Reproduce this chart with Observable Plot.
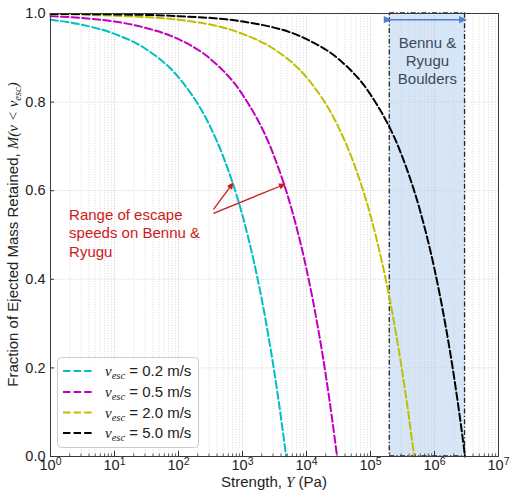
<!DOCTYPE html>
<html>
<head>
<meta charset="utf-8">
<script src="https://cdn.jsdelivr.net/npm/d3@7"></script>
<script src="https://cdn.jsdelivr.net/npm/@observablehq/plot@0.6"></script>
<style>
  html, body { margin: 0; padding: 0; background: #fff; }
  #chart { width: 516px; height: 500px; }
</style>
</head>
<body>
<div id="chart"></div>
<script>
// ---------- data ----------
const seriesSpeeds = ["0.2", "0.5", "2.0", "5.0"];            // v_esc (m/s)
const seriesColors = ["#00bfbf", "#bf00bf", "#bfbf00", "#000000"];

const strength_v02 = [1, 3, 10, 30, 100, 300, 500, 1000, 1500, 2000, 2500, 3000, 3500, 4000, 4500, 4800];
const retained_v02 = [0.986, 0.975, 0.954, 0.921, 0.856, 0.750, 0.677, 0.544, 0.441, 0.355, 0.278, 0.209, 0.146, 0.087, 0.032, 0.0];

const strength_v05 = [1, 3, 10, 30, 100, 300, 1000, 3000, 6000, 10000, 15000, 20000, 25000, 28000, 30000];
const retained_v05 = [0.994, 0.990, 0.982, 0.968, 0.942, 0.900, 0.817, 0.684, 0.553, 0.423, 0.293, 0.184, 0.087, 0.034, 0.0];

const strength_v20 = [1, 10, 100, 1000, 3000, 10000, 30000, 50000, 100000, 150000, 200000, 250000, 300000, 350000, 400000, 450000, 480000];
const retained_v20 = [0.999, 0.995, 0.986, 0.954, 0.921, 0.856, 0.750, 0.677, 0.544, 0.441, 0.355, 0.278, 0.209, 0.146, 0.087, 0.032, 0.0];

const strength_v50 = [1, 10, 100, 1000, 10000, 30000, 100000, 300000, 600000, 1000000, 1500000, 2000000, 2500000, 2800000, 3000000];
const retained_v50 = [0.999, 0.998, 0.994, 0.982, 0.942, 0.900, 0.817, 0.684, 0.553, 0.423, 0.293, 0.184, 0.087, 0.034, 0.0];

const xTickValues = [1, 10, 100, 1000, 10000, 100000, 1000000, 10000000];
const xTickExponents = ["0", "1", "2", "3", "4", "5", "6", "7"];
const yTickValues = [0, 0.2, 0.4, 0.6, 0.8, 1.0];
const yTickLabels = ["0.0", "0.2", "0.4", "0.6", "0.8", "1.0"];

const boulderRange = [200000, 3000000];
const boulderLabel = "Bennu &\nRyugu\nBoulders";
const boulderLabelAt = [775000, 0.894];
const boulderArrowY = 0.986;

const escapeLabel = "Range of escape\nspeeds on Bennu &\nRyugu";
const escapeLabelAt = [1.95, 0.506];
const escapeArrowFromX = [352, 352];
const escapeArrowFromY = [0.558, 0.549];
const escapeArrowToX = [700, 4500];
const escapeArrowToY = [0.616, 0.614];

// ---------- derived tables ----------
const strengths = [strength_v02, strength_v05, strength_v20, strength_v50];
const retaineds = [retained_v02, retained_v05, retained_v20, retained_v50];
const curves = strengths.map((s, k) => s.map((v, i) => ({s: v, m: retaineds[k][i]})));
const xMinor = [];
for (let k = 0; k < 7; k++) for (let m = 2; m <= 9; m++) xMinor.push(m * Math.pow(10, k));
const escapeArrows = escapeArrowFromX.map((_, i) => ({x1: escapeArrowFromX[i], y1: escapeArrowFromY[i], x2: escapeArrowToX[i], y2: escapeArrowToY[i]}));

const W = 516, H = 500, ML = 50, MR = 18, MT = 13, MB = 44;
const red = "#cc1a1a", blue = "#4a80d4";
const dash = "7.4,3.2";
const dashDot = "5,2.2,1.3,2.2";

const plot = Plot.plot({
  width: W, height: H,
  marginLeft: ML, marginRight: MR, marginTop: MT, marginBottom: MB,
  style: {fontFamily: "'Liberation Sans', Arial, sans-serif", fontSize: "14.5px", color: "#222", background: "#fff"},
  x: {type: "log", domain: [1, 1e7]},
  y: {domain: [0, 1]},
  marks: [
    Plot.rect([boulderRange], {x1: d => d[0], x2: d => d[1], y1: 0, y2: 1, fill: "#d6e6f7"}),
    Plot.ruleX(xMinor, {x: d => d, stroke: "#cfcfcf", strokeWidth: 0.7, strokeDasharray: "1,1.6"}),
    Plot.ruleX(xTickValues, {x: d => d, stroke: "#bdbdbd", strokeWidth: 0.8, strokeDasharray: "1,1.6"}),
    Plot.ruleY(yTickValues, {y: d => d, stroke: "#c8c8c8", strokeWidth: 0.8, strokeDasharray: "1,1.6"}),
    Plot.rect([boulderRange], {x1: d => d[0], x2: d => d[1], y1: 0, y2: 1, fill: "none", stroke: "#222", strokeWidth: 1.3, strokeDasharray: dashDot}),
    ...curves.map((rows, k) => Plot.line(rows, {x: "s", y: "m", stroke: seriesColors[k], strokeWidth: 2, strokeDasharray: dash, curve: "monotone-x"})),
    Plot.link([boulderRange], {x1: d => d[0], x2: d => d[1], y1: boulderArrowY, y2: boulderArrowY, stroke: blue, strokeWidth: 1.5, markerStart: "arrow", markerEnd: "arrow"}),
    Plot.text([boulderLabel], {x: boulderLabelAt[0], y: boulderLabelAt[1], text: d => d, lineAnchor: "middle", lineHeight: 1.2, fontSize: 15, fill: "#3b4a5c"}),
    Plot.text([escapeLabel], {x: escapeLabelAt[0], y: escapeLabelAt[1], text: d => d, textAnchor: "start", lineAnchor: "middle", lineHeight: 1.23, fontSize: 15, fill: red}),
    Plot.link(escapeArrows, {x1: "x1", y1: "y1", x2: "x2", y2: "y2", stroke: red, strokeWidth: 1.3, markerEnd: "arrow"}),
    Plot.frame({stroke: "#3a3a3a", strokeWidth: 1}),
    Plot.ruleX(xTickValues, {x: d => d, y1: 0, y2: 0, insetTop: -5, stroke: "#333"}),
    Plot.ruleX(xMinor, {x: d => d, y1: 0, y2: 0, insetTop: -2.5, stroke: "#333", strokeWidth: 0.8}),
    Plot.ruleY(yTickValues, {y: d => d, x1: 1, x2: 1, insetRight: -4, stroke: "#333"}),
    Plot.axisX(xTickValues, {tickSize: 0, tickPadding: 3, tickFormat: d => "10^" + xTickExponents[xTickValues.indexOf(d)], label: null}),
    Plot.axisY(yTickValues, {tickSize: 0, tickPadding: 5, tickFormat: d => yTickLabels[yTickValues.indexOf(d)], label: null})
  ]
});

document.getElementById("chart").appendChild(plot);
const svg = d3.select(plot);

// superscript exponents on x tick labels
svg.selectAll('g[aria-label="x-axis tick label"] text').each(function () {
  const m = this.textContent.match(/^10\^(\d+)$/);
  if (!m) return;
  const t = d3.select(this);
  t.text(null);
  t.append("tspan").text("10");
  t.append("tspan").attr("dy", "-0.5em").attr("font-size", "10.5px").text(m[1]);
});

// filled arrow heads
svg.selectAll("marker").attr("overflow", "visible").each(function () {
  const mk = d3.select(this);
  const c = mk.attr("stroke");
  mk.attr("fill", c).attr("stroke", "none");
  mk.select("path").attr("d", "M-6,-3.6L2,0L-6,3.6Z");
});

const serif = "'Liberation Serif', 'DejaVu Serif', serif";

// x axis label
const xl = svg.append("text")
  .attr("x", (ML + W - MR) / 2).attr("y", 487)
  .attr("text-anchor", "middle").attr("font-size", "15px").attr("fill", "#222");
xl.append("tspan").text("Strength, ");
xl.append("tspan").attr("font-family", serif).attr("font-style", "italic").text("Y");
xl.append("tspan").text(" (Pa)");

// y axis label
const yl = svg.append("text")
  .attr("transform", `translate(18,${(MT + H - MB) / 2}) rotate(-90)`)
  .attr("text-anchor", "middle").attr("font-size", "15px").attr("fill", "#222");
yl.append("tspan").text("Fraction of Ejected Mass Retained, ");
yl.append("tspan").attr("font-family", serif).attr("font-style", "italic").text("M(v < v");
yl.append("tspan").attr("font-family", serif).attr("font-style", "italic").attr("font-size", "10.5px").attr("dy", "3").text("esc");
yl.append("tspan").attr("font-family", serif).attr("font-style", "italic").attr("dy", "-3").text(")");

// legend
const lg = svg.append("g").attr("aria-label", "legend").attr("text-anchor", "start");
lg.append("rect").attr("x", 57.5).attr("y", 357.5).attr("width", 141).attr("height", 90).attr("rx", 4)
  .attr("fill", "#fff").attr("fill-opacity", 0.85).attr("stroke", "#cccccc");
const rowY = [371, 392, 412.5, 433];
seriesSpeeds.forEach((sp, k) => {
  lg.append("line").attr("x1", 63).attr("x2", 93).attr("y1", rowY[k]).attr("y2", rowY[k])
    .attr("stroke", seriesColors[k]).attr("stroke-width", 2).attr("stroke-dasharray", dash);
  const t = lg.append("text").attr("x", 105).attr("y", rowY[k] + 5).attr("text-anchor", "start")
    .attr("font-size", "15px").attr("fill", "#222");
  t.append("tspan").attr("font-family", serif).attr("font-style", "italic").text("v");
  t.append("tspan").attr("font-family", serif).attr("font-style", "italic").attr("font-size", "10.5px").attr("dy", "3").text("esc");
  t.append("tspan").attr("dy", "-3").text(" = " + sp + " m/s");
});
</script>
</body>
</html>
